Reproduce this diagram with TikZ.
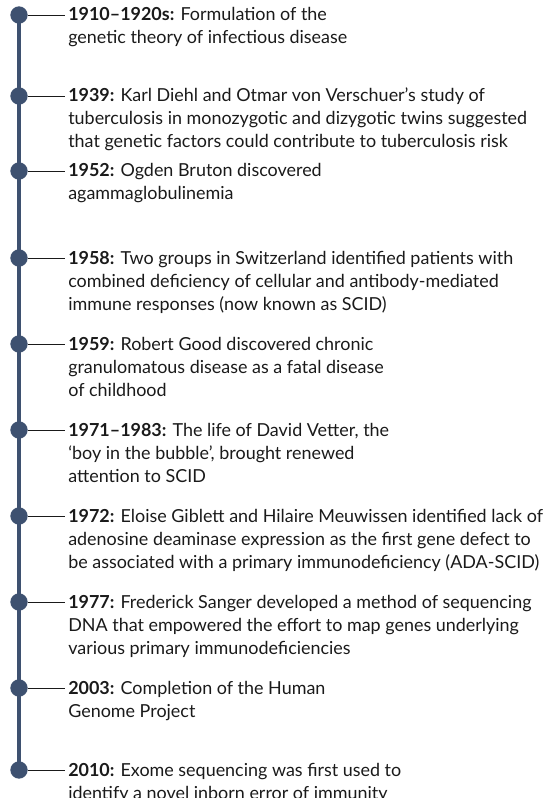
\documentclass[tikz,border=0pt]{standalone}
\usepackage{fontspec}
\setmainfont{Lato}
\usetikzlibrary{positioning}
\definecolor{spineblue}{HTML}{3E5170}
\definecolor{inkgrey}{HTML}{1A1A1A}
\newcommand{\eventlines}[1]{\begin{tabular}[t]{@{}l@{}}#1\end{tabular}}
\tikzset{dot/.style = {fill=spineblue, circle, inner sep = 0, minimum size = 13pt}}
\tikzset{event/.style = {anchor=base west, inner sep=0, text=inkgrey,
    font=\fontsize{13.45pt}{17.25pt}\selectfont}}
\tikzset{tick/.style = {draw=inkgrey, line width=0.6pt, shorten >=2pt}}
\tikzset{spine/.style = {draw=spineblue, line width=3.6pt}}

\begin{document}
\begin{tikzpicture}[x=0.75pt,y=-0.75pt]
      \useasboundingbox (0,0) rectangle (545,798);

      \coordinate (top) at (19,15);
      \coordinate (bottom) at (19,770);
      \draw[spine] (top) -- (bottom);

      \node[dot] (d1) at (19,15) {};
      \node[dot] (d2) at (19,96) {};
      \node[dot] (d3) at (19,171) {};
      \node[dot] (d4) at (19,258) {};
      \node[dot] (d5) at (19,344) {};
      \node[dot] (d6) at (19,430) {};
      \node[dot] (d7) at (19,516) {};
      \node[dot] (d8) at (19,602) {};
      \node[dot] (d9) at (19,688) {};
      \node[dot] (d10) at (19,770) {};

      \node[event] (t1) at (68,21) {\eventlines{\textbf{1910--1920s:} Formulation of the\\genetic theory of infectious disease}};
      \node[event] (t2) at (68,102) {\eventlines{\textbf{1939:} Karl Diehl and Otmar von Verschuer’s study of\\tuberculosis in monozygotic and dizygotic twins suggested\\that genetic factors could contribute to tuberculosis risk}};
      \node[event] (t3) at (68,177) {\eventlines{\textbf{1952:} Ogden Bruton discovered\\agammaglobulinemia}};
      \node[event] (t4) at (68,264) {\eventlines{\textbf{1958:} Two groups in Switzerland identified patients with\\combined deficiency of cellular and antibody-mediated\\immune responses (now known as SCID)}};
      \node[event] (t5) at (68,350) {\eventlines{\textbf{1959:} Robert Good discovered chronic\\granulomatous disease as a fatal disease\\of childhood}};
      \node[event] (t6) at (68,436) {\eventlines{\textbf{1971--1983:} The life of David Vetter, the\\‘boy in the bubble’, brought renewed\\attention to SCID}};
      \node[event] (t7) at (68,522) {\eventlines{\textbf{1972:} Eloise Giblett and Hilaire Meuwissen identified lack of\\adenosine deaminase expression as the first gene defect to\\be associated with a primary immunodeficiency (ADA-SCID)}};
      \node[event] (t8) at (68,608) {\eventlines{\textbf{1977:} Frederick Sanger developed a method of sequencing\\DNA that empowered the effort to map genes underlying\\various primary immunodeficiencies}};
      \node[event] (t9) at (68,694) {\eventlines{\textbf{2003:} Completion of the Human\\Genome Project}};
      \node[event] (t10) at (68,776) {\eventlines{\textbf{2010:} Exome sequencing was first used to\\identify a novel inborn error of immunity}};

      \draw[tick] (d1.east) -- (d1 -| t1.west);
      \draw[tick] (d2.east) -- (d2 -| t2.west);
      \draw[tick] (d3.east) -- (d3 -| t3.west);
      \draw[tick] (d4.east) -- (d4 -| t4.west);
      \draw[tick] (d5.east) -- (d5 -| t5.west);
      \draw[tick] (d6.east) -- (d6 -| t6.west);
      \draw[tick] (d7.east) -- (d7 -| t7.west);
      \draw[tick] (d8.east) -- (d8 -| t8.west);
      \draw[tick] (d9.east) -- (d9 -| t9.west);
      \draw[tick] (d10.east) -- (d10 -| t10.west);
  \end{tikzpicture}
\end{document}
